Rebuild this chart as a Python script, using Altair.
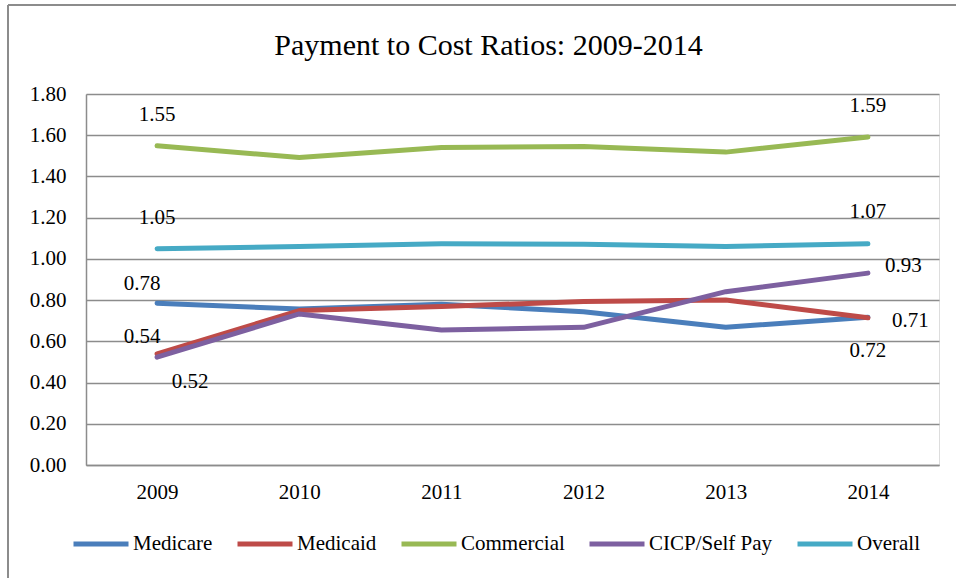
import altair as alt
import pandas as pd

years = ["2009", "2010", "2011", "2012", "2013", "2014"]
series = ["Medicare", "Medicaid", "Commercial", "CICP/Self Pay", "Overall"]
medicare = [0.785, 0.757, 0.780, 0.744, 0.668, 0.717]
medicaid = [0.539, 0.749, 0.769, 0.793, 0.801, 0.714]
commercial = [1.549, 1.492, 1.540, 1.545, 1.518, 1.591]
cicp = [0.523, 0.733, 0.655, 0.668, 0.841, 0.931]
overall = [1.049, 1.060, 1.073, 1.071, 1.060, 1.073]
colors = ["#4A7EBB", "#BE4B48", "#98B954", "#7D60A0", "#46AAC5"]

# data labels
label_series = ["Commercial", "Commercial", "Overall", "Overall", "Medicare",
                "Medicaid", "CICP/Self Pay", "CICP/Self Pay", "Medicaid", "Medicare"]
label_years = ["2009", "2014", "2009", "2014", "2009", "2009", "2009", "2014", "2014", "2014"]
label_texts = ["1.55", "1.59", "1.05", "1.07", "0.78", "0.54", "0.52", "0.93", "0.71", "0.72"]
# label placement (styling)
label_dx = [0, 0, 0, 0, -15, -15, 33, 17, 24, 0]
label_dy = [-25, -25, -25, -26, -13, -11, 31, -1, 9, 40]
label_align = ["center", "center", "center", "center", "center", "center", "center", "left", "left", "center"]

values_by_series = dict(zip(series, [medicare, medicaid, commercial, cicp, overall]))
rows = []
for s in series:
    for y, v in zip(years, values_by_series[s]):
        rows.append({"series": s, "year": y, "value": v})
df = pd.DataFrame(rows)

FONT = "Liberation Serif, Times New Roman, serif"
GRAY = "#8C8C8C"

x_enc = alt.X("year:N", scale=alt.Scale(type="point", padding=0.5), sort=years,
              axis=alt.Axis(title=None, labelAngle=0, ticks=False, grid=False,
                            labelFont=FONT, labelFontSize=21, labelColor="#000000",
                            labelPadding=16, domainColor=GRAY, domainWidth=1.5))
y_enc = alt.Y("value:Q", scale=alt.Scale(domain=[0, 1.8], nice=False, zero=True),
              axis=alt.Axis(title=None, values=[0, 0.2, 0.4, 0.6, 0.8, 1.0, 1.2, 1.4, 1.6, 1.8],
                            format=".2f", ticks=False, grid=True, gridColor=GRAY, gridWidth=1.5,
                            labelFont=FONT, labelFontSize=21, labelColor="#000000",
                            labelPadding=20, domainColor=GRAY, domainWidth=1.5))

lines = alt.Chart(df).mark_line(strokeWidth=5, strokeCap="round", strokeJoin="round").encode(
    x=x_enc,
    y=y_enc,
    color=alt.Color("series:N", sort=series,
                    scale=alt.Scale(domain=series, range=colors),
                    legend=alt.Legend(orient="none", legendX=-15, legendY=420,
                                      direction="horizontal", title=None,
                                      symbolType="stroke", symbolSize=3025,
                                      symbolStrokeWidth=5, labelFont=FONT,
                                      labelFontSize=21, labelColor="#000000",
                                      columnPadding=14, labelOffset=2, columns=5)),
    order=alt.Order("year:N"),
)

layers = [
    alt.Chart(df).mark_rule(color=GRAY, strokeWidth=1.5).encode(
        x=alt.value(-78), y=alt.value(-89), y2=alt.value(500)),
    alt.Chart(df).mark_rule(color=GRAY, strokeWidth=1.5).encode(
        x=alt.value(-78), x2=alt.value(880), y=alt.value(-89)),
    lines,
]

for s, yr, t, dx, dy, al in zip(label_series, label_years, label_texts, label_dx, label_dy, label_align):
    v = values_by_series[s][years.index(yr)]
    ldf = pd.DataFrame([{"series": s, "year": yr, "value": v, "label": t}])
    layers.append(
        alt.Chart(ldf).mark_text(font=FONT, fontSize=21, color="#000000", align=al,
                                 baseline="alphabetic", dx=dx, dy=dy).encode(
            x=alt.X("year:N", scale=alt.Scale(type="point", padding=0.5), sort=years),
            y=alt.Y("value:Q"),
            text="label:N",
        )
    )

chart = alt.layer(*layers).properties(
    width=853,
    height=371,
    autosize=alt.AutoSizeParams(type="none"),
    padding={"left": 86, "top": 94, "right": 17, "bottom": 113},
    title=alt.TitleParams("Payment to Cost Ratios: 2009-2014", font=FONT, fontSize=30,
                          fontWeight="normal", color="#000000", anchor="middle",
                          baseline="alphabetic", dx=-24, offset=-81),
    background="white",
).configure_view(stroke=None).configure(font=FONT).configure_legend(
    labelFont=FONT, labelFontSize=21, labelColor="#000000")

chart.save("out.html", embed_options={"renderer": "svg", "actions": False})
